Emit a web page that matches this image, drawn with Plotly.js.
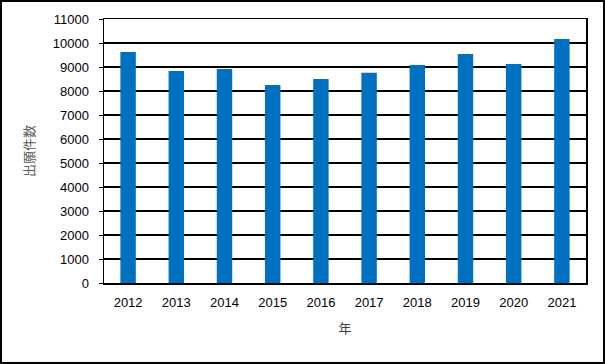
<!DOCTYPE html>
<html>
<head>
<meta charset="utf-8">
<script src="https://cdn.plot.ly/plotly-3.0.1.min.js"></script>
<style>
html,body{margin:0;padding:0;background:#fff;}
#wrap{width:605px;height:364px;box-sizing:border-box;border:2px solid #000;overflow:hidden;position:relative;}
#chart{position:absolute;left:-2px;top:-2px;width:605px;height:364px;}
</style>
</head>
<body>
<div id="wrap"><div id="chart"></div></div>
<script>
const years = ['2012','2013','2014','2015','2016','2017','2018','2019','2020','2021'];
const applications = [9625, 8833, 8917, 8250, 8500, 8763, 9083, 9542, 9125, 10167];
const yTicks = [0,1000,2000,3000,4000,5000,6000,7000,8000,9000,10000,11000];
const xTitle = '年';
const yTitle = '出願件数';

const tickFont = {family: 'Liberation Sans, Arial, sans-serif', size: 13, color: '#000'};
Plotly.newPlot('chart', [{
  type: 'bar',
  x: years,
  y: applications,
  marker: {color: '#0070C0'},
  hoverinfo: 'x+y'
}], {
  width: 605, height: 364,
  margin: {l: 104, r: 19, t: 19, b: 81, pad: 0},
  paper_bgcolor: '#fff', plot_bgcolor: '#fff',
  bargap: 0.68,
  showlegend: false,
  xaxis: {
    type: 'category',
    tickfont: tickFont,
    showline: true, linecolor: '#000', linewidth: 1.5, mirror: true,
    ticks: '', showgrid: false,
    ticklabelstandoff: 7,
    title: {text: xTitle, font: {family: 'Noto Sans CJK JP, sans-serif', size: 13, color: '#404040'}, standoff: 15}
  },
  yaxis: {
    range: [0, 11000],
    tickvals: yTicks,
    ticktext: yTicks.map(String),
    tickfont: tickFont,
    showline: true, linecolor: '#000', linewidth: 1.5, mirror: true,
    ticks: 'outside', ticklen: 4, tickcolor: '#000', tickwidth: 1,
    showgrid: true, gridcolor: '#000', gridwidth: 1.5,
    zeroline: false,
    ticklabelstandoff: 7,
    title: {text: yTitle, font: {family: 'Noto Sans CJK JP, sans-serif', size: 13, color: '#595959'}, standoff: 15}
  }
}, {displayModeBar: false, staticPlot: true});
</script>
</body>
</html>
